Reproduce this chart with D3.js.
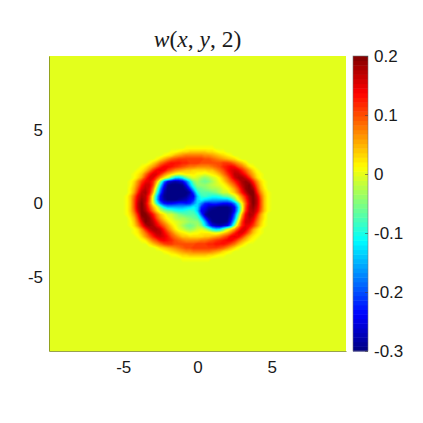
<!DOCTYPE html>
<html lang="en">
<head>
<meta charset="utf-8">
<title>w(x,y,2)</title>
<script src="https://cdn.jsdelivr.net/npm/d3@7"></script>
<style>
  html, body { margin: 0; background: #fff; }
  text { font-family: "Liberation Sans", Helvetica, Arial, sans-serif; fill: #1a1a1a; }
</style>
</head>
<body>
<script>
var xTicks = [-5, 0, 5];
var yTicks = [-5, 0, 5];
var barTicks = [-0.3, -0.2, -0.1, 0, 0.1, 0.2];
var barLabels = ["-0.3", "-0.2", "-0.1", "0", "0.1", "0.2"];
var jetStops = ["#000080", "#0000ff", "#00ffff", "#ffff00", "#ff0000", "#800000"];
var jetValues = [-0.3, -0.2375, -0.1125, 0.0125, 0.1375, 0.2];
var gridX0 = -5, gridY0 = 3.75, gridStep = 0.25;
// field in hundredths: x = -5..5, y = 3.75..-3.75, zero everywhere else
var rows = [
  [0,0,0,0,0,0,0,0,0,0,0,0,0,0,0,0,0,1,1,1,1,1,1,1,1,0,0,0,0,0,0,0,0,0,0,0,0,0,0,0,0],
  [0,0,0,0,0,0,0,0,0,0,0,0,0,1,1,2,3,3,4,4,4,4,4,3,3,2,1,1,0,0,0,0,0,0,0,0,0,0,0,0,0],
  [0,0,0,0,0,0,0,0,0,0,0,1,2,3,5,6,7,8,8,8,8,8,7,7,6,5,4,3,2,1,0,0,0,0,0,0,0,0,0,0,0],
  [0,0,0,0,0,0,0,0,0,1,3,5,7,9,10,11,11,11,11,11,11,11,10,10,9,8,7,6,5,4,3,1,0,0,0,0,0,0,0,0,0],
  [0,0,0,0,0,0,0,1,3,5,8,10,12,13,13,13,12,12,11,11,11,10,10,10,10,10,10,11,11,10,8,6,4,2,0,0,0,0,0,0,0],
  [0,0,0,0,0,1,2,4,6,9,12,14,14,13,12,11,10,9,8,8,7,7,7,7,8,9,10,12,13,14,13,10,8,5,2,1,0,0,0,0,0],
  [0,0,0,0,1,2,4,7,11,14,15,14,11,9,7,6,5,4,4,3,3,3,3,4,4,6,8,10,13,15,16,15,12,9,6,3,1,0,0,0,0],
  [0,0,0,1,2,4,8,12,15,15,12,8,5,3,1,0,1,2,2,2,1,1,0,1,2,3,5,8,11,14,17,17,15,12,8,5,2,1,0,0,0],
  [0,0,0,1,3,6,11,15,15,11,6,2,-1,-7,-13,-14,-11,-6,-2,0,-1,-3,-4,-3,-1,0,2,5,8,12,16,18,18,16,12,7,3,1,0,0,0],
  [0,0,1,3,7,11,14,15,12,5,-5,-18,-25,-27,-28,-27,-25,-19,-12,-5,-3,-5,-6,-5,-3,-1,1,3,6,9,12,15,18,19,17,12,7,3,1,0,0],
  [0,0,1,4,8,13,16,16,11,1,-12,-23,-29,-30,-30,-30,-29,-24,-15,-8,-4,-4,-4,-3,-2,-1,0,1,3,6,9,13,17,19,20,15,9,4,1,0,0],
  [0,0,2,5,10,15,17,15,8,-4,-17,-26,-30,-30,-30,-30,-30,-28,-22,-13,-7,-6,-5,-4,-3,-3,-2,0,1,3,6,10,15,19,20,18,11,5,2,0,0],
  [0,0,2,6,12,17,18,14,5,-8,-20,-28,-30,-30,-30,-30,-30,-30,-28,-20,-10,-7,-7,-7,-6,-5,-3,-1,-1,2,4,8,13,17,20,20,13,7,3,1,0],
  [0,1,4,9,15,18,17,11,0,-13,-24,-29,-30,-30,-30,-30,-30,-29,-26,-24,-14,-9,-8,-9,-10,-10,-9,-7,-6,-4,-1,3,8,13,18,20,16,9,4,1,0],
  [0,1,4,10,16,19,17,10,-1,-14,-24,-28,-30,-30,-30,-29,-28,-27,-24,-22,-13,-11,-13,-14,-15,-15,-15,-15,-15,-12,-6,1,5,11,17,20,17,10,4,1,0],
  [0,1,4,10,17,20,16,9,1,-9,-18,-23,-24,-24,-23,-22,-22,-23,-22,-17,-13,-17,-22,-23,-22,-22,-23,-24,-24,-23,-18,-9,1,9,16,20,17,10,4,1,0],
  [0,1,4,10,17,20,17,11,5,1,-6,-12,-15,-15,-15,-15,-15,-14,-13,-11,-13,-22,-24,-27,-28,-29,-30,-30,-30,-28,-24,-14,-1,10,17,19,16,10,4,1,0],
  [0,1,4,9,16,20,18,13,8,3,-1,-4,-6,-7,-9,-10,-10,-9,-8,-9,-14,-24,-26,-29,-30,-30,-30,-30,-30,-29,-24,-13,0,11,17,18,15,9,4,1,0],
  [0,1,3,7,13,20,20,17,13,8,4,2,-1,-1,-3,-5,-6,-7,-7,-7,-10,-20,-28,-30,-30,-30,-30,-30,-30,-28,-20,-8,5,14,18,17,12,6,2,0,0],
  [0,0,2,5,11,18,20,19,15,10,6,3,1,0,-2,-3,-3,-4,-5,-6,-7,-13,-22,-28,-30,-30,-30,-30,-30,-26,-17,-4,8,15,17,15,10,5,2,0,0],
  [0,0,1,4,9,15,20,19,17,13,9,6,3,1,0,-1,-2,-3,-4,-4,-4,-8,-15,-24,-29,-30,-30,-30,-29,-23,-12,1,11,16,16,13,8,4,1,0,0],
  [0,0,1,3,7,12,17,19,18,15,12,9,6,3,1,-1,-3,-5,-6,-5,-3,-5,-12,-19,-25,-27,-28,-27,-25,-18,-5,5,12,15,14,11,7,3,1,0,0],
  [0,0,0,1,3,7,12,16,18,18,16,12,8,5,2,0,-1,-3,-4,-3,-1,0,-2,-6,-11,-14,-13,-7,-1,2,6,11,15,15,11,6,3,1,0,0,0],
  [0,0,0,1,2,5,8,12,15,17,17,14,11,8,5,3,2,1,0,1,1,2,2,2,1,0,1,3,5,8,12,15,15,12,8,4,2,1,0,0,0],
  [0,0,0,0,1,3,6,9,12,15,16,15,13,10,8,6,4,4,3,3,3,3,4,4,5,6,7,9,11,14,15,14,11,7,4,2,1,0,0,0,0],
  [0,0,0,0,0,1,2,5,8,10,13,14,13,12,10,9,8,7,7,7,7,8,8,9,10,11,12,13,14,14,12,9,6,4,2,1,0,0,0,0,0],
  [0,0,0,0,0,0,0,2,4,6,8,10,11,11,10,10,10,10,10,10,11,11,11,12,12,13,13,13,12,10,8,5,3,1,0,0,0,0,0,0,0],
  [0,0,0,0,0,0,0,0,0,1,3,4,5,6,7,8,9,10,10,11,11,11,11,11,11,11,10,9,7,5,3,1,0,0,0,0,0,0,0,0,0],
  [0,0,0,0,0,0,0,0,0,0,0,1,2,3,4,5,6,7,7,8,8,8,8,8,7,6,5,3,2,1,0,0,0,0,0,0,0,0,0,0,0],
  [0,0,0,0,0,0,0,0,0,0,0,0,0,1,1,2,3,3,4,4,4,4,4,3,3,2,1,1,0,0,0,0,0,0,0,0,0,0,0,0,0],
  [0,0,0,0,0,0,0,0,0,0,0,0,0,0,0,0,1,1,1,1,1,1,1,1,0,0,0,0,0,0,0,0,0,0,0,0,0,0,0,0,0]
];

var plot = {left: 49, right: 346, top: 56, bottom: 351};
var bar = {left: 353, right: 368, top: 56, bottom: 351};

var xScale = d3.scaleLinear().domain([-10, 10]).range([plot.left, plot.right]);
var yScale = d3.scaleLinear().domain([-10, 10]).range([plot.bottom, plot.top]);
var barScale = d3.scaleLinear().domain([-0.3, 0.2]).range([bar.bottom, bar.top]);
var jet = d3.scaleLinear().domain(jetValues).range(jetStops).clamp(true);

var svg = d3.select("body").append("svg")
    .attr("width", 423)
    .attr("height", 423);

svg.append("defs").append("clipPath")
    .attr("id", "clip")
  .append("rect")
    .attr("x", plot.left)
    .attr("y", plot.top)
    .attr("width", plot.right - plot.left)
    .attr("height", plot.bottom - plot.top);

// pad the read grid with zeros so it covers the whole axes
var nx = 81, ny = 81;
var flat = [];
for (var j = 0; j < ny; j++) {
  for (var i = 0; i < nx; i++) {
    var c = Math.round((-10 + i * gridStep - gridX0) / gridStep);
    var r = Math.round((gridY0 - (10 - j * gridStep)) / gridStep);
    flat.push(rows[r] && rows[r][c] !== undefined ? rows[r][c] / 100 : 0);
  }
}

var levels = d3.range(0, 128).map(function(k) { return -0.3 + k * 0.5 / 128; });
var contours = d3.contours().size([nx, ny]).thresholds(levels)(flat);

var toScreen = d3.geoTransform({
  point: function(gx, gy) {
    this.stream.point(xScale(-10 + (gx - 0.5) * gridStep), yScale(10 - (gy - 0.5) * gridStep));
  }
});
var path = d3.geoPath(toScreen);

var field = svg.append("g").attr("clip-path", "url(#clip)");
field.append("rect")
    .attr("x", plot.left)
    .attr("y", plot.top)
    .attr("width", plot.right - plot.left)
    .attr("height", plot.bottom - plot.top)
    .attr("fill", jet(-0.3));
field.selectAll("path")
    .data(contours)
    .enter()
    .append("path")
    .attr("d", path)
    .attr("fill", function(d) { return jet(d.value + 0.25 / 128); });

// axes
var xAxis = d3.axisBottom(xScale).tickValues(xTicks).tickSize(0).tickPadding(10).tickFormat(String);
var yAxis = d3.axisLeft(yScale).tickValues(yTicks).tickSize(0).tickPadding(6).tickFormat(String);

var gx = svg.append("g").attr("transform", "translate(0," + plot.bottom + ")").call(xAxis);
var gy = svg.append("g").attr("transform", "translate(" + plot.left + ",0)").call(yAxis);
gx.selectAll("text").style("font-size", "17px").attr("fill", "#1a1a1a");
gy.selectAll("text").style("font-size", "17px").attr("fill", "#1a1a1a");
gx.select(".domain").attr("stroke", "#7d8a20").attr("stroke-width", 0.8);
gy.select(".domain").attr("stroke", "#7d8a20").attr("stroke-width", 0.8);

// colour bar
var barSteps = d3.range(0, 64);
svg.append("g").selectAll("rect")
    .data(barSteps)
    .enter()
    .append("rect")
    .attr("x", bar.left)
    .attr("width", bar.right - bar.left)
    .attr("y", function(d) { return barScale(-0.3 + (d + 1) * 0.5 / 64); })
    .attr("height", function(d) { return barScale(-0.3) - barScale(-0.3 + 0.5 / 64) + 0.5; })
    .attr("fill", function(d) { return jet(-0.3 + (d + 0.5) * 0.5 / 64); });

svg.append("rect")
    .attr("x", bar.left)
    .attr("y", bar.top)
    .attr("width", bar.right - bar.left)
    .attr("height", bar.bottom - bar.top)
    .attr("fill", "none")
    .attr("stroke", "#777")
    .attr("stroke-width", 0.6);

var barAxis = d3.axisRight(barScale).tickValues(barTicks).tickSize(0).tickPadding(6)
    .tickFormat(function(d, i) { return barLabels[i]; });
var gb = svg.append("g").attr("transform", "translate(" + bar.right + ",0)").call(barAxis);
gb.select(".domain").remove();
gb.selectAll("text").style("font-size", "17px").attr("fill", "#1a1a1a");
gb.selectAll(".tick").append("line")
    .attr("x1", -3)
    .attr("x2", 0)
    .attr("stroke", "#444")
    .attr("stroke-width", 0.6);

// title
var title = svg.append("text")
    .attr("x", 197.5)
    .attr("y", 47)
    .attr("text-anchor", "middle")
    .style("font-family", "'Liberation Serif', serif")
    .style("font-size", "23.5px");
[["w", true], ["(", false], ["x", true], [", ", false], ["y", true], [", 2)", false]].forEach(function(p) {
  title.append("tspan").text(p[0]).style("font-style", p[1] ? "italic" : "normal");
});
</script>
</body>
</html>
